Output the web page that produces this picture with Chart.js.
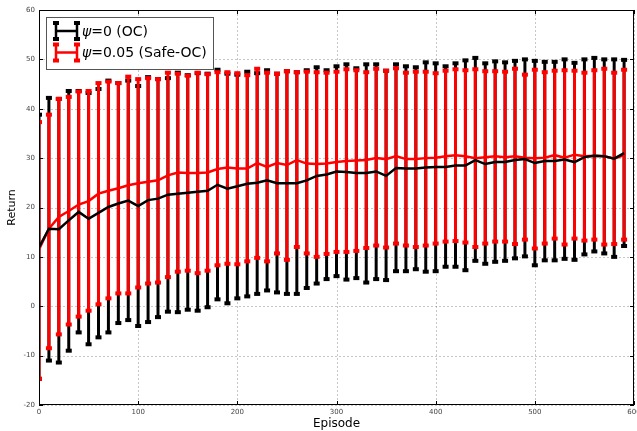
<!DOCTYPE html>
<html>
<head>
<meta charset="utf-8">
<script src="https://cdn.jsdelivr.net/npm/chart.js@4.4.1/dist/chart.umd.min.js"></script>
<style>
  html, body { margin: 0; padding: 0; background: #fff; }
  #wrap { width: 637px; height: 431px; }
</style>
</head>
<body>
<div id="wrap"><canvas id="returnChart" width="637" height="431"></canvas></div>
<script>
const episodes = [0, 10, 20, 30, 40, 50, 60, 70, 80, 90,
  100, 110, 120, 130, 140, 150, 160, 170, 180, 190,
  200, 210, 220, 230, 240, 250, 260, 270, 280, 290,
  300, 310, 320, 330, 340, 350, 360, 370, 380, 390,
  400, 410, 420, 430, 440, 450, 460, 470, 480, 490,
  500, 510, 520, 530, 540, 550, 560, 570, 580, 590];

// psi = 0 (OC)
const ocMean = [11.9, 15.7, 15.6, 17.4, 19.1, 17.7, 18.9, 20.1, 20.8, 21.4,
  20.3, 21.5, 21.8, 22.6, 22.8, 23.0, 23.2, 23.4, 24.6, 23.8,
  24.3, 24.8, 25.0, 25.5, 24.9, 24.9, 24.9, 25.5, 26.4, 26.7,
  27.3, 27.2, 27.0, 27.0, 27.3, 26.4, 28.0, 27.9, 27.9, 28.1,
  28.2, 28.2, 28.5, 28.5, 29.6, 28.8, 29.2, 29.2, 29.6, 29.8,
  29.0, 29.4, 29.4, 29.7, 29.2, 30.2, 30.5, 30.4, 29.9, 31.0];
const ocHigh = [38.8, 42.2, 42.0, 43.6, 43.6, 43.2, 44.0, 45.7, 45.2, 45.7,
  44.6, 46.4, 46.0, 46.2, 47.3, 46.8, 47.2, 47.1, 47.9, 47.1,
  46.9, 47.5, 47.2, 47.8, 47.1, 47.6, 47.4, 47.8, 48.4, 47.8,
  48.6, 49.0, 48.2, 49.0, 49.0, 47.7, 49.0, 48.6, 48.4, 49.4,
  49.2, 48.6, 49.2, 49.8, 50.3, 49.2, 49.6, 49.4, 49.7, 50.0,
  49.7, 49.5, 49.5, 50.0, 49.3, 50.0, 50.3, 50.0, 50.0, 49.9];
const ocLow = [-14.7, -11.0, -11.4, -9.0, -5.3, -7.7, -6.3, -5.3, -3.4, -2.8,
  -4.0, -3.2, -2.2, -1.1, -1.2, -0.7, -0.9, -0.2, 1.4, 0.6,
  1.6, 2.0, 2.5, 3.2, 2.8, 2.5, 2.5, 3.7, 4.6, 5.5,
  6.1, 5.4, 5.7, 4.8, 5.5, 5.3, 7.1, 7.1, 7.5, 7.0,
  7.1, 8.0, 8.0, 7.3, 9.2, 8.6, 9.0, 9.2, 9.7, 10.1,
  8.3, 9.3, 9.3, 9.6, 9.4, 10.5, 11.1, 10.7, 10.0, 12.2];

// psi = 0.05 (Safe-OC)
const safeMean = [11.5, 15.7, 18.1, 19.3, 20.6, 21.3, 22.8, 23.4, 23.9, 24.5,
  24.9, 25.2, 25.5, 26.5, 27.1, 27.0, 27.0, 27.1, 27.8, 28.1,
  27.9, 27.9, 29.0, 28.2, 29.0, 28.6, 29.6, 28.9, 28.8, 28.9,
  29.2, 29.4, 29.5, 29.6, 30.0, 29.8, 30.4, 29.8, 29.8, 30.0,
  30.1, 30.4, 30.6, 30.4, 30.0, 30.2, 30.4, 30.2, 30.4, 30.1,
  30.0, 30.1, 30.6, 30.1, 30.7, 30.4, 30.5, 30.4, 29.9, 30.6];
const safeHigh = [37.3, 38.8, 42.0, 42.4, 43.5, 43.6, 45.2, 45.5, 45.2, 46.5,
  46.0, 46.2, 46.0, 47.3, 47.1, 46.7, 47.3, 47.0, 47.4, 47.4,
  47.2, 46.8, 48.1, 47.3, 47.1, 47.6, 47.4, 47.5, 47.4, 47.3,
  47.5, 48.0, 47.8, 47.4, 48.1, 47.7, 48.2, 47.3, 47.5, 47.5,
  47.2, 47.7, 48.0, 47.8, 48.0, 47.6, 47.6, 47.5, 48.1, 46.9,
  47.9, 47.4, 47.7, 47.8, 47.7, 47.3, 47.8, 48.1, 47.3, 47.9];
const safeLow = [-14.7, -8.5, -5.7, -3.7, -2.1, -0.9, 0.4, 1.6, 2.6, 2.6,
  3.8, 4.6, 4.8, 5.9, 7.0, 7.2, 6.7, 7.2, 8.3, 8.6,
  8.5, 9.1, 9.8, 9.1, 10.7, 9.4, 12.0, 10.7, 10.0, 10.6,
  11.0, 11.0, 11.2, 11.8, 12.3, 11.9, 12.7, 12.3, 12.0, 12.3,
  12.7, 13.1, 13.2, 12.9, 12.0, 12.7, 13.1, 13.1, 12.6, 13.5,
  11.7, 12.7, 13.7, 12.5, 13.7, 13.3, 13.5, 12.5, 12.6, 13.5];

const seriesNames = ['=0 (OC)', '=0.05 (Safe-OC)'];
const xTicks = [0, 100, 200, 300, 400, 500, 600];
const yTicks = [-20, -10, 0, 10, 20, 30, 40, 50, 60];

function points(ys) {
  return episodes.map((e, i) => ({ x: e, y: ys[i] }));
}

// dotted grid + vertical error bars, under the mean lines
const errorBars = {
  id: 'errorBars',
  beforeDatasetsDraw(chart) {
    const { ctx, chartArea: a, scales: { x, y } } = chart;
    ctx.save();
    ctx.strokeStyle = 'rgba(0,0,0,0.28)';
    ctx.lineWidth = 0.8;
    ctx.setLineDash([2, 2]);
    xTicks.forEach(v => {
      const px = Math.round(x.getPixelForValue(v)) + 0.5;
      ctx.beginPath(); ctx.moveTo(px, a.top); ctx.lineTo(px, a.bottom); ctx.stroke();
    });
    yTicks.forEach(v => {
      const py = Math.round(y.getPixelForValue(v)) + 0.5;
      ctx.beginPath(); ctx.moveTo(a.left, py); ctx.lineTo(a.right, py); ctx.stroke();
    });
    ctx.setLineDash([]);

    ctx.beginPath();
    ctx.rect(a.left, a.top, a.right - a.left, a.bottom - a.top);
    ctx.clip();
    chart.data.datasets.forEach(ds => {
      ctx.strokeStyle = ds.borderColor;
      ctx.fillStyle = ds.borderColor;
      ctx.lineWidth = 3;
      episodes.forEach((e, i) => {
        const px = x.getPixelForValue(e);
        const top = y.getPixelForValue(ds.high[i]);
        const bot = y.getPixelForValue(ds.low[i]);
        ctx.beginPath(); ctx.moveTo(px, top); ctx.lineTo(px, bot); ctx.stroke();
        ctx.fillRect(px - 3, top - 2, 6, 4);
        ctx.fillRect(px - 3, bot - 2, 6, 4);
      });
    });
    ctx.restore();
  }
};

// axes frame, inward ticks and the legend box
const frameAndLegend = {
  id: 'frameAndLegend',
  afterDraw(chart) {
    const { ctx, chartArea: a, scales: { x, y } } = chart;
    ctx.save();
    ctx.strokeStyle = '#000';
    ctx.lineWidth = 1;
    ctx.strokeRect(a.left + 0.5, a.top + 0.5, a.right - a.left - 1, a.bottom - a.top - 1);
    xTicks.forEach(v => {
      const px = Math.round(x.getPixelForValue(v)) + 0.5;
      ctx.beginPath();
      ctx.moveTo(px, a.bottom); ctx.lineTo(px, a.bottom - 4);
      ctx.moveTo(px, a.top); ctx.lineTo(px, a.top + 4);
      ctx.stroke();
    });
    yTicks.forEach(v => {
      const py = Math.round(y.getPixelForValue(v)) + 0.5;
      ctx.beginPath();
      ctx.moveTo(a.left, py); ctx.lineTo(a.left + 4, py);
      ctx.moveTo(a.right, py); ctx.lineTo(a.right - 4, py);
      ctx.stroke();
    });

    // legend
    const bx = 46.5, by = 17.5, bw = 167, bh = 52;
    ctx.fillStyle = '#fff';
    ctx.fillRect(bx, by, bw, bh);
    ctx.strokeStyle = '#555';
    ctx.strokeRect(bx, by, bw, bh);
    const rows = [31, 52.5];
    chart.data.datasets.forEach((ds, i) => {
      const cy = rows[i];
      const x0 = 56, x1 = 77;
      ctx.strokeStyle = ds.borderColor;
      ctx.fillStyle = ds.borderColor;
      ctx.lineWidth = 2.5;
      ctx.beginPath(); ctx.moveTo(x0, cy); ctx.lineTo(x1, cy); ctx.stroke();
      [x0, x1].forEach(px => {
        ctx.beginPath(); ctx.moveTo(px, cy - 8); ctx.lineTo(px, cy + 8); ctx.stroke();
        ctx.fillRect(px - 3, cy - 10, 6, 4);
        ctx.fillRect(px - 3, cy + 6, 6, 4);
      });
      ctx.fillStyle = '#000';
      ctx.textBaseline = 'middle';
      ctx.textAlign = 'left';
      ctx.font = 'italic 14px "DejaVu Sans"';
      ctx.fillText('\u03c8', 82, cy + 1);
      const w = ctx.measureText('\u03c8').width;
      ctx.font = '14px "DejaVu Sans"';
      ctx.fillText(seriesNames[i], 82 + w, cy + 1);
    });
    ctx.restore();
  }
};

const ctx = document.getElementById('returnChart').getContext('2d');
new Chart(ctx, {
  type: 'line',
  data: {
    datasets: [{
      label: seriesNames[0],
      data: points(ocMean),
      high: ocHigh,
      low: ocLow,
      borderColor: '#000000',
      borderWidth: 2.5,
      pointRadius: 0,
      tension: 0
    }, {
      label: seriesNames[1],
      data: points(safeMean),
      high: safeHigh,
      low: safeLow,
      borderColor: '#ff0000',
      borderWidth: 2.5,
      pointRadius: 0,
      tension: 0
    }]
  },
  options: {
    responsive: false,
    animation: false,
    devicePixelRatio: 1,
    layout: { padding: { top: 10, right: 3, left: 0, bottom: 0 } },
    plugins: { legend: { display: false }, tooltip: { enabled: false } },
    scales: {
      x: {
        type: 'linear',
        min: 0, max: 600,
        afterBuildTicks: s => { s.ticks = xTicks.map(v => ({ value: v })); },
        afterFit: s => { s.height = 26; s.paddingLeft = 0; s.paddingRight = 0; },
        grid: { display: false, drawTicks: false },
        border: { display: false },
        ticks: { padding: 3, maxRotation: 0, autoSkip: false, color: '#444', font: { family: 'DejaVu Sans', size: 7 } },
        title: { display: true, text: 'Episode', color: '#000', padding: { top: 0, bottom: 0 }, font: { family: 'DejaVu Sans', size: 12 } }
      },
      y: {
        min: -20, max: 60,
        afterBuildTicks: s => { s.ticks = yTicks.map(v => ({ value: v })); },
        afterFit: s => { s.width = 39; s.paddingTop = 0; s.paddingBottom = 0; },
        grid: { display: false, drawTicks: false },
        border: { display: false },
        ticks: { padding: 4, color: '#444', font: { family: 'DejaVu Sans', size: 7 } },
        title: { display: true, text: 'Return', color: '#000', padding: { top: 6, bottom: 0 }, font: { family: 'DejaVu Sans', size: 11 } }
      }
    }
  },
  plugins: [errorBars, frameAndLegend]
});
</script>
</body>
</html>
